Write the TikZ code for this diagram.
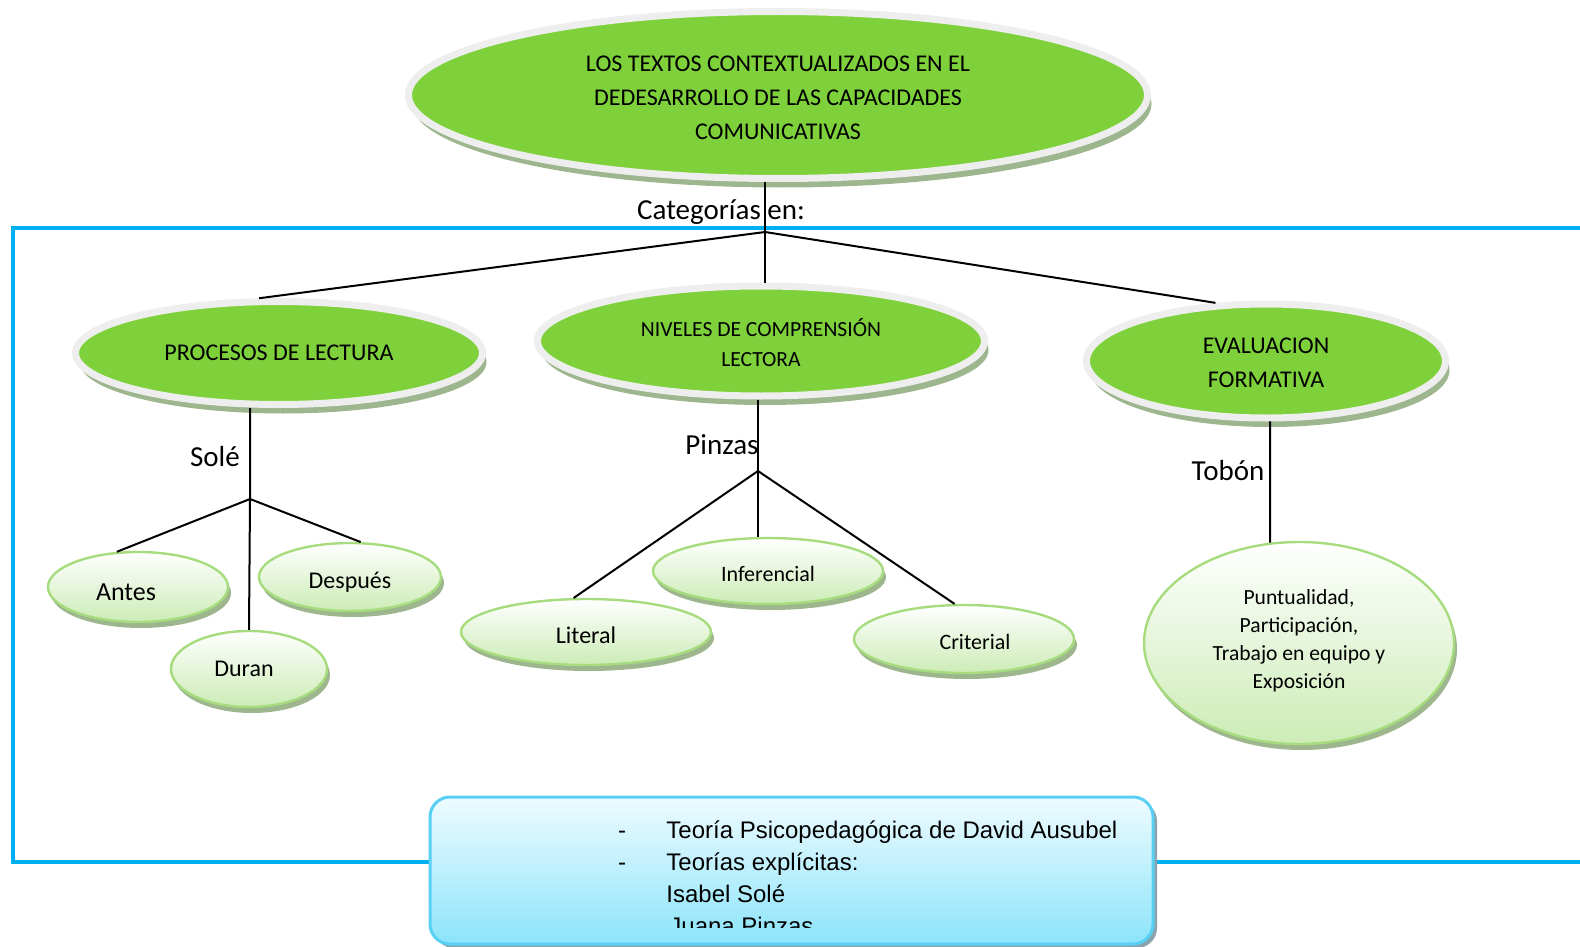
\documentclass[tikz,border=0pt]{standalone}
\usepackage{fontspec}
\setmainfont{Carlito}
\newfontfamily\arialfont{Liberation Sans}
\usetikzlibrary{shapes.geometric,shadows}

\definecolor{leaf}{RGB}{126,209,59}
\definecolor{ring}{RGB}{238,238,238}
\definecolor{shade}{RGB}{157,182,142}
\definecolor{mint}{RGB}{166,220,126}
\definecolor{pale}{RGB}{204,236,182}
\definecolor{skyline}{RGB}{0,176,240}
\definecolor{boxedge}{RGB}{88,208,243}
\definecolor{boxtop}{RGB}{238,251,255}
\definecolor{boxbot}{RGB}{140,228,250}
\definecolor{boxshade}{RGB}{139,163,172}

% texto centrado, subido o bajado un poco sin cambiar su caja
\newcommand{\ovaltext}[2]{\raisebox{#1}[\height][\depth]{\begin{tabular}{@{}c@{}}#2\end{tabular}}}
\newcommand{\lowword}[2]{\raisebox{#1}[\height][\depth]{#2}}

\tikzset{
  bigoval/.style={ellipse, draw=ring, line width=3.5pt, fill=leaf, inner sep=0pt,
    drop shadow={shadow xshift=2pt, shadow yshift=-4.5pt, fill=shade, opacity=1}},
  leafoval/.style={ellipse, draw=mint, line width=1.2pt, top color=white, bottom color=pale,
    inner sep=0pt, font=\fontsize{12}{14}\selectfont,
    drop shadow={shadow xshift=1.5pt, shadow yshift=-3pt, fill=shade, opacity=1}},
  teobox/.style={rectangle, rounded corners=10pt, draw=boxedge, line width=1.5pt,
    top color=boxtop, bottom color=boxbot,
    drop shadow={shadow xshift=2pt, shadow yshift=-2pt, fill=boxshade, opacity=1}},
  tag/.style={font=\fontsize{14.5}{17}\selectfont, inner sep=0pt},
  listline/.style={font=\arialfont\fontsize{12}{14}\selectfont, inner sep=0pt},
  link/.style={line width=1pt},
}

\begin{document}
\begin{tikzpicture}[x=0.5pt,y=-0.5pt]
\useasboundingbox (0,0) rectangle (1580,947);
\clip (0,0) rectangle (1580,947);

\draw[skyline, line width=2pt] (1600,228) -| (13,862) -- (1600,862); %marco azul

% ovalos principales
\node[bigoval, minimum width=369.5pt, minimum height=83.5pt, font=\fontsize{12}{17}\selectfont] (main) at (778,95)
  {\ovaltext{-1.7pt}{LOS TEXTOS CONTEXTUALIZADOS EN EL\\DEDESARROLLO DE LAS CAPACIDADES\\COMUNICATIVAS}};
\node[bigoval, minimum width=203.5pt, minimum height=51.5pt, font=\fontsize{12}{17}\selectfont] (procesos) at (279,353)
  {PROCESOS DE LECTURA};
\node[bigoval, minimum width=223.5pt, minimum height=55pt, font=\fontsize{10.8}{15}\selectfont] (niveles) at (761,341)
  {\ovaltext{-2pt}{NIVELES DE COMPRENSIÓN\\LECTORA}};
\node[bigoval, minimum width=179.5pt, minimum height=57pt, font=\fontsize{12}{17}\selectfont] (evaluacion) at (1266,361)
  {\ovaltext{-1.5pt}{EVALUACION\\FORMATIVA}};

% ovalos claros
\node[leafoval, minimum width=90pt, minimum height=35pt, font=\fontsize{13}{15}\selectfont] (antes) at (138,587) {\lowword{-2.5pt}{Antes}\hspace*{12pt}};
\node[leafoval, minimum width=91pt, minimum height=34pt] (despues) at (350,577) {\lowword{-2.5pt}{Después}};
\node[leafoval, minimum width=78pt, minimum height=38pt] (duran) at (249,669) {Duran\hspace*{5pt}};
\node[leafoval, minimum width=125pt, minimum height=33pt] (literal) at (586,632) {\lowword{-1.5pt}{Literal}};
\node[leafoval, minimum width=115pt, minimum height=33pt, font=\fontsize{11}{13}\selectfont] (inferencial) at (768,571) {\lowword{-1.5pt}{Inferencial}};
\node[leafoval, minimum width=110pt, minimum height=34pt, font=\fontsize{11}{13}\selectfont] (criterial) at (964,639) {\hspace*{11pt}\lowword{-1.5pt}{Criterial}};
\node[leafoval, minimum width=155pt, minimum height=101pt, font=\fontsize{10.8}{14}\selectfont] (puntualidad) at (1299,643)
  {\ovaltext{1pt}{Puntualidad,\\Participación,\\Trabajo en equipo y\\Exposición}};

% uniones
\coordinate (hub) at (765,232);
\coordinate (solehub) at (250,499);
\coordinate (pinzhub) at (758,471);

\draw[link] (hub |- main.south) -- (hub);
\draw[link] (procesos.110) -- (hub) -- (evaluacion.131);
\draw[link] (hub) -- (hub |- niveles.north);
\draw[link] (procesos.south -| solehub) -- (solehub) -- (duran.north);
\draw[link] (antes.121) -- (solehub) -- (despues.73);
\draw[link] (niveles.south -| pinzhub) -- (pinzhub) -- (pinzhub |- inferencial.north);
\draw[link] (literal.110) -- (pinzhub) -- (criterial.105);
\draw[link] (evaluacion.-86) -- (puntualidad.106);

\node[tag] (categorias) at (721,212) {Categorías en:};
\node[tag] (sole) at (215,457) {Solé};
\node[tag] (pinzas) at (722,445) {Pinzas};
\node[tag] (tobon) at (1228,471) {Tobón};

% recuadro de teorias
\node[teobox, minimum width=361.5pt, minimum height=73.5pt] (teorias) at (791.5,870.5) {};
\coordinate (cut) at (1160,927);
\begin{scope}
\clip (teorias.north west) rectangle (cut);
\node[listline, anchor=base] (dashA) at (622,838) {-};
\node[listline, anchor=base west] (lineA) at (666,838) {Teoría Psicopedagógica de David Ausubel};
\node[listline, anchor=base] (dashB) at (622,870) {-};
\node[listline, anchor=base west] (lineB) at (666,870) {Teorías explícitas:};
\node[listline, anchor=base west] (lineC) at (666,902) {Isabel Solé};
\node[listline, anchor=base west] (lineD) at (669,934) {Juana Pinzas};
\end{scope}
\end{tikzpicture}
\end{document}
